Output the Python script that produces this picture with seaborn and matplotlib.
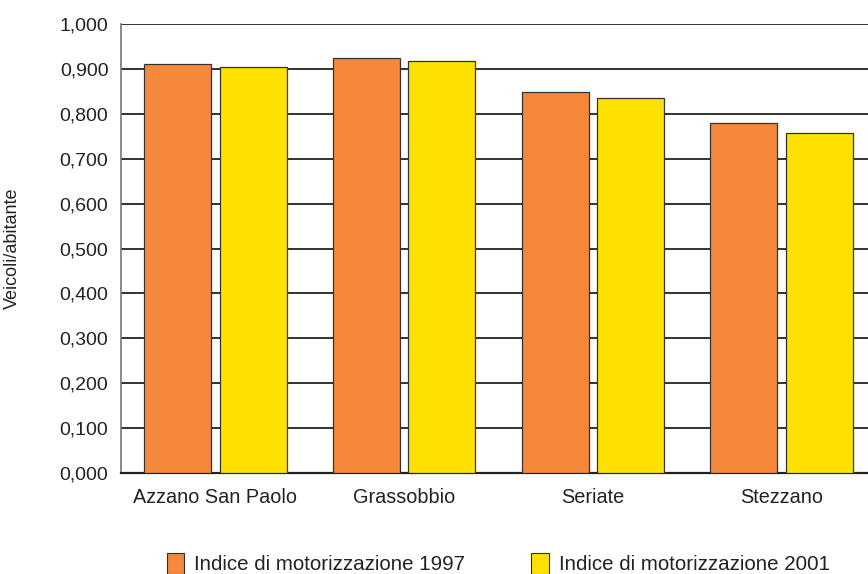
import numpy as np
import pandas as pd
import seaborn as sns
import matplotlib.pyplot as plt
from matplotlib.ticker import FuncFormatter, FixedLocator
from matplotlib.patches import Patch

comuni = ["Azzano San Paolo", "Grassobbio", "Seriate", "Stezzano"]
serie = ["Indice di motorizzazione 1997", "Indice di motorizzazione 2001"]
val_1997 = [0.911, 0.924, 0.849, 0.780]
val_2001 = [0.904, 0.918, 0.835, 0.757]
colori = ["#F5883A", "#FFE100"]

df = pd.DataFrame({
    "comune": comuni * 2,
    "serie": [serie[0]] * 4 + [serie[1]] * 4,
    "valore": val_1997 + val_2001,
})

sns.set_style("white")
plt.rcParams["font.family"] = ["Liberation Sans", "DejaVu Sans"]

fig = plt.figure(figsize=(8.68, 5.74), dpi=100)
ax = fig.add_axes([121 / 868, 101 / 574, 755 / 868, 449 / 574])

sns.barplot(data=df, x="comune", y="valore", hue="serie", palette=colori,
            saturation=1, gap=0.11, edgecolor="#333333", linewidth=0.9,
            ax=ax, legend=False, zorder=3)

ax.set_xlim(-0.5, 3.5)
ax.set_ylim(0, 1.0)
ax.set_yticks(np.arange(0, 1.01, 0.1))
ax.yaxis.set_major_formatter(FuncFormatter(lambda v, p: f"{v:.3f}".replace(".", ",")))
ax.yaxis.grid(True, color="#222222", linewidth=1.3, zorder=0)
ax.set_axisbelow(True)
ax.tick_params(axis="y", length=0, labelsize=14, pad=9, labelcolor="#222222")
ax.tick_params(axis="x", length=0, labelsize=14.3, pad=11, labelcolor="#222222")
ax.xaxis.set_minor_locator(FixedLocator([0.5, 1.5, 2.5]))
ax.tick_params(axis="x", which="minor", direction="in", length=7, width=1, color="#444444")

ax.set_xlabel("")
ax.set_ylabel("Veicoli/abitante", fontsize=13, color="#222222")
ax.yaxis.set_label_coords(-100 / 755, 0.5)

for s in ["top", "right"]:
    ax.spines[s].set_visible(False)
ax.spines["left"].set_color("#777777")
ax.spines["left"].set_linewidth(1.2)
ax.spines["bottom"].set_color("#222222")
ax.spines["bottom"].set_linewidth(1.6)

handles = [Patch(facecolor=c, edgecolor="#333333", linewidth=0.8) for c in colori]
fig.legend(handles, serie, loc="center", bbox_to_anchor=(0.574, 0.018), ncol=2,
           frameon=False, fontsize=14.8, handlelength=0.85, handleheight=1.2,
           handletextpad=0.5, columnspacing=3.2, labelcolor="#222222")

fig.savefig("out.png", dpi=100)
